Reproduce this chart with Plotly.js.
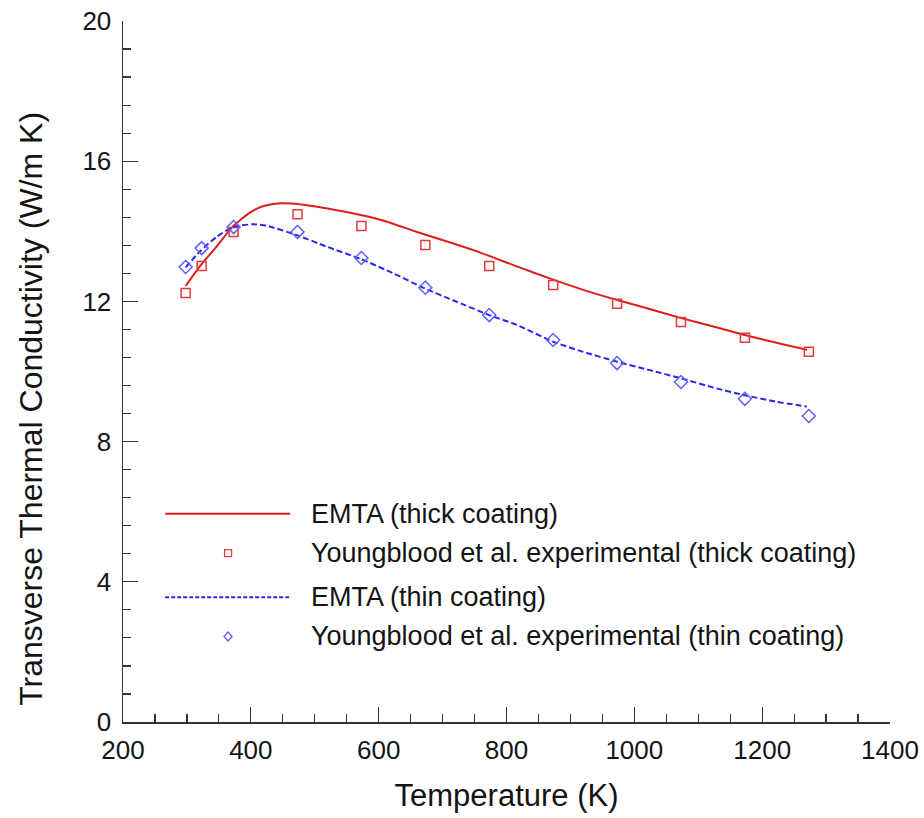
<!DOCTYPE html>
<html>
<head>
<meta charset="utf-8">
<script src="https://cdn.plot.ly/plotly-3.0.1.min.js"></script>
<style>
html,body{margin:0;padding:0;background:#fff;}
#chart{width:924px;height:818px;}
</style>
</head>
<body>
<div id="chart"></div>
<script>
// ---- data ----
const expTemps = [298, 323, 373, 473, 573, 673, 773, 873, 973, 1073, 1173, 1273];
const thickExp = [12.24, 13.01, 13.98, 14.49, 14.15, 13.61, 13.01, 12.47, 11.93, 11.41, 10.96, 10.56];
const thinExp  = [12.98, 13.52, 14.12, 13.98, 13.24, 12.39, 11.61, 10.90, 10.24, 9.70, 9.22, 8.73];

const thickModelT = [298, 322, 347, 372, 399, 420, 446, 482, 555, 607, 660, 712, 758, 816, 873, 920, 973, 1013, 1072, 1128, 1171, 1232, 1270];
const thickModel  = [12.44, 13.04, 13.58, 14.14, 14.54, 14.72, 14.80, 14.76, 14.53, 14.31, 13.98, 13.68, 13.40, 13.00, 12.62, 12.33, 12.04, 11.84, 11.53, 11.26, 11.05, 10.78, 10.62];

const thinModelT = [298, 320, 347, 372, 403, 425, 472, 519, 572, 623, 672, 722, 773, 816, 873, 920, 973, 1024, 1072, 1128, 1171, 1222, 1270];
const thinModel  = [12.97, 13.42, 13.85, 14.12, 14.20, 14.16, 13.89, 13.56, 13.21, 12.80, 12.37, 11.99, 11.61, 11.33, 10.85, 10.56, 10.28, 10.04, 9.81, 9.52, 9.33, 9.14, 9.00];

const seriesNames = [
  "EMTA (thick coating)",
  "Youngblood et al. experimental (thick coating)",
  "EMTA (thin coating)",
  "Youngblood et al. experimental (thin coating)"
];
const xTitle = "Temperature (K)";
const yTitle = "Transverse Thermal Conductivity (W/m K)";

// ---- styles ----
const RED_LINE = "rgb(222,30,30)";
const RED_MK = "rgb(228,60,60)";
const BLUE_LINE = "rgb(40,40,240)";
const BLUE_MK = "rgb(95,95,255)";
const FONT = "Liberation Sans, Arial, Helvetica, sans-serif";
const TXT = "#141414";

const traces = [
  {x: thickModelT, y: thickModel, mode: "lines", name: seriesNames[0],
   line: {color: RED_LINE, width: 2, shape: "spline", smoothing: 0.6}},
  {x: expTemps, y: thickExp, mode: "markers", name: seriesNames[1],
   marker: {symbol: "square-open", size: 9, color: RED_MK, line: {width: 1.5}}},
  {x: thinModelT, y: thinModel, mode: "lines", name: seriesNames[2],
   line: {color: BLUE_LINE, width: 2, dash: "6px,3px", shape: "spline", smoothing: 0.6}},
  {x: expTemps, y: thinExp, mode: "markers", name: seriesNames[3],
   marker: {symbol: "diamond-open", size: 10, color: BLUE_MK, line: {width: 1.5}}}
];

// ---- custom legend (long line samples as in the reference) ----
const legRows = [0.297, 0.241, 0.178, 0.122];
const legX0 = 0.055, legX1 = 0.218, legXm = 0.137, legTx = 0.243;
const shapes = [
  {type: "line", xref: "paper", yref: "paper", x0: legX0, x1: legX1, y0: legRows[0], y1: legRows[0],
   line: {color: RED_LINE, width: 2}},
  {type: "rect", xref: "paper", yref: "paper", xsizemode: "pixel", ysizemode: "pixel",
   xanchor: legXm, yanchor: legRows[1], x0: -3.5, x1: 3.5, y0: -3.5, y1: 3.5,
   line: {color: RED_MK, width: 1.3}},
  {type: "line", xref: "paper", yref: "paper", x0: legX0, x1: legX1, y0: legRows[2], y1: legRows[2],
   line: {color: BLUE_LINE, width: 2, dash: "4px,2px"}},
  {type: "path", xref: "paper", yref: "paper", xsizemode: "pixel", ysizemode: "pixel",
   xanchor: legXm, yanchor: legRows[3], path: "M0,-4.5 L4,0 L0,4.5 L-4,0 Z",
   line: {color: BLUE_MK, width: 1.3}}
];
const annotations = seriesNames.map((s, i) => ({
  xref: "paper", yref: "paper", x: legTx, y: legRows[i], xanchor: "left", yanchor: "middle",
  text: s, showarrow: false, font: {family: FONT, size: 27, color: TXT}
}));
// y-axis title, placed where the reference has it (slightly below the plot centre)
annotations.push({
  xref: "paper", yref: "paper", x: -0.121, y: 0.447, xanchor: "center", yanchor: "middle",
  textangle: -90, text: yTitle, showarrow: false, font: {family: FONT, size: 32, color: TXT}
});

const axisCommon = {
  showgrid: false, zeroline: false, showline: true, linecolor: "#333", linewidth: 1.5,
  ticks: "inside", ticklen: 15, tickwidth: 1.2, tickcolor: "#333",
  tickfont: {family: FONT, size: 26, color: TXT}, mirror: false
};

const layout = {
  width: 924, height: 818,
  margin: {l: 123, r: 34, t: 21, b: 96},
  paper_bgcolor: "#fff", plot_bgcolor: "#fff",
  showlegend: false,
  font: {family: FONT, color: TXT},
  xaxis: Object.assign({}, axisCommon, {
    range: [200, 1400], tick0: 200, dtick: 200,
    minor: {dtick: 50, ticks: "inside", ticklen: 8, tickwidth: 1.2, tickcolor: "#333", showgrid: false},
    ticklabelstandoff: 4,
    title: {text: xTitle, font: {family: FONT, size: 31, color: TXT}, standoff: 20}
  }),
  yaxis: Object.assign({}, axisCommon, {
    range: [0, 20], tick0: 0, dtick: 4,
    minor: {dtick: 0.8, ticks: "inside", ticklen: 8, tickwidth: 1.2, tickcolor: "#333", showgrid: false},
    ticklabelstandoff: 5
  }),
  shapes: shapes,
  annotations: annotations
};

Plotly.newPlot("chart", traces, layout, {displayModeBar: false, staticPlot: true});
</script>
</body>
</html>
